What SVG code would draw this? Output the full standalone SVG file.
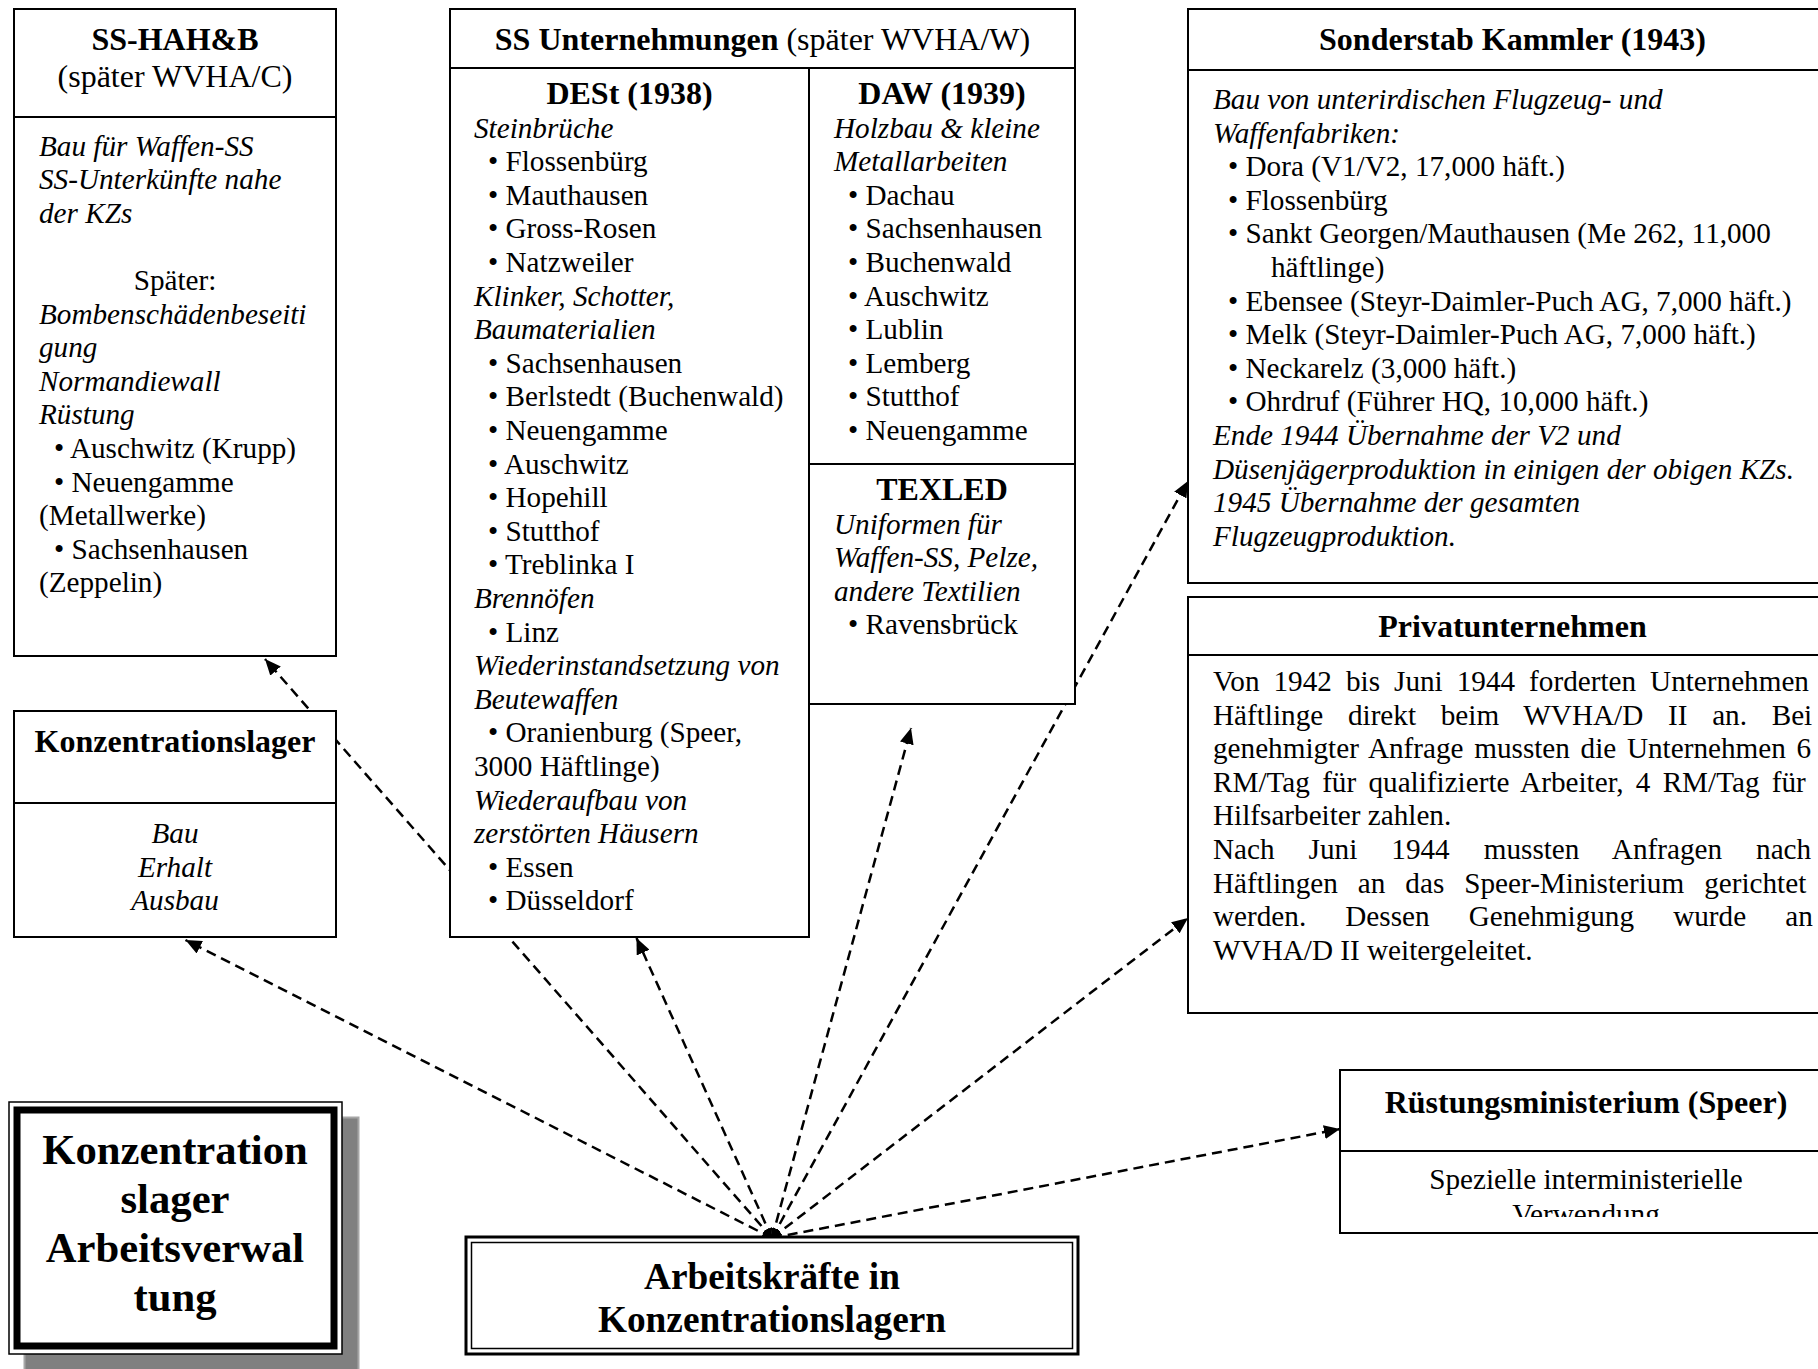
<svg xmlns="http://www.w3.org/2000/svg" width="1818" height="1369" viewBox="0 0 1818 1369">
<style>
text { font-family: "Liberation Serif", "Times New Roman", serif; fill: #000; }
.t { font-size: 32px; font-weight: bold; }
.b { font-size: 29.2px; }
.i { font-style: italic; }
.c { text-anchor: middle; }
.box { fill: #fff; stroke: #000; stroke-width: 2; }
.ln { stroke: #000; stroke-width: 2; }
#connectors line { stroke: #000; stroke-width: 2.5; stroke-dasharray: 10 6; fill: none; }
</style>
<defs>
<marker id="ah" markerUnits="userSpaceOnUse" markerWidth="18" markerHeight="14" refX="16" refY="7" orient="auto-start-reverse">
<path d="M0,0 L16,7 L0,14 z" fill="#000"/>
</marker>
<marker id="ahs" markerUnits="userSpaceOnUse" markerWidth="12" markerHeight="10" refX="10" refY="4" orient="auto-start-reverse">
<path d="M0,0 L10,4 L0,8 z" fill="#000"/>
</marker>
<clipPath id="rclip"><rect x="1340" y="1150" width="500" height="67"/></clipPath>
</defs>
<rect width="1818" height="1369" fill="#fff"/>

<g id="connectors">
<line x1="772" y1="1238" x2="265" y2="659" marker-start="url(#ahs)" marker-end="url(#ah)"/>
<line x1="772" y1="1238" x2="185.5" y2="940" marker-start="url(#ahs)" marker-end="url(#ah)"/>
<line x1="772" y1="1238" x2="636.5" y2="938" marker-start="url(#ahs)" marker-end="url(#ah)"/>
<line x1="772" y1="1238" x2="911" y2="728" marker-start="url(#ahs)" marker-end="url(#ah)"/>
<line x1="772" y1="1238" x2="1188" y2="481" marker-start="url(#ahs)" marker-end="url(#ah)"/>
<line x1="772" y1="1238" x2="1188" y2="918" marker-start="url(#ahs)" marker-end="url(#ah)"/>
<line x1="772" y1="1238" x2="1340" y2="1129" marker-end="url(#ah)"/>
</g>

<g id="ss-hahb">
<rect class="box" x="14" y="9" width="322" height="647"/>
<line class="ln" x1="14" y1="117" x2="336" y2="117"/>
<text class="t c" x="175" y="50">SS-HAH&amp;B</text>
<text class="b c" x="175" y="86.5" style="font-size:32px">(später WVHA/C)</text>
<text class="b i" x="39" y="155.5">Bau für Waffen-SS</text>
<text class="b i" x="39" y="189.1">SS-Unterkünfte nahe</text>
<text class="b i" x="39" y="222.7">der KZs</text>
<text class="b c" x="175" y="289.9">Später:</text>
<text class="b i" x="39" y="323.5">Bombenschädenbeseiti</text>
<text class="b i" x="39" y="357.1">gung</text>
<text class="b i" x="39" y="390.7">Normandiewall</text>
<text class="b i" x="39" y="424.3">Rüstung</text>
<text class="b" x="54" y="457.9">• Auschwitz (Krupp)</text>
<text class="b" x="54" y="491.5">• Neuengamme</text>
<text class="b" x="39" y="525.1">(Metallwerke)</text>
<text class="b" x="54" y="558.7">• Sachsenhausen</text>
<text class="b" x="39" y="592.3">(Zeppelin)</text>
</g>

<g id="konzentrationslager">
<rect class="box" x="14" y="711" width="322" height="226"/>
<line class="ln" x1="14" y1="803" x2="336" y2="803"/>
<text class="t c" x="175" y="752">Konzentrationslager</text>
<text class="b i c" x="175" y="843">Bau</text>
<text class="b i c" x="175" y="876.6">Erhalt</text>
<text class="b i c" x="175" y="910.2">Ausbau</text>
</g>

<g id="ss-unternehmungen">
<rect class="box" x="450" y="9" width="625" height="59"/>
<text class="c" x="762.5" y="50" style="font-size:32px"><tspan font-weight="bold">SS Unternehmungen</tspan> (später WVHA/W)</text>
</g>

<g id="dest">
<rect class="box" x="450" y="68" width="359" height="869"/>
<text class="t c" x="629.5" y="104">DESt (1938)</text>
<text class="b i" x="474" y="137.5">Steinbrüche</text>
<text class="b" x="488" y="171.1">• Flossenbürg</text>
<text class="b" x="488" y="204.7">• Mauthausen</text>
<text class="b" x="488" y="238.3">• Gross-Rosen</text>
<text class="b" x="488" y="271.9">• Natzweiler</text>
<text class="b i" x="474" y="305.5">Klinker, Schotter,</text>
<text class="b i" x="474" y="339.1">Baumaterialien</text>
<text class="b" x="488" y="372.7">• Sachsenhausen</text>
<text class="b" x="488" y="406.3">• Berlstedt (Buchenwald)</text>
<text class="b" x="488" y="439.9">• Neuengamme</text>
<text class="b" x="488" y="473.5">• Auschwitz</text>
<text class="b" x="488" y="507.1">• Hopehill</text>
<text class="b" x="488" y="540.7">• Stutthof</text>
<text class="b" x="488" y="574.3">• Treblinka I</text>
<text class="b i" x="474" y="607.9">Brennöfen</text>
<text class="b" x="488" y="641.5">• Linz</text>
<text class="b i" x="474" y="675.1">Wiederinstandsetzung von</text>
<text class="b i" x="474" y="708.7">Beutewaffen</text>
<text class="b" x="488" y="742.3">• Oranienburg (Speer,</text>
<text class="b" x="474" y="775.9">3000 Häftlinge)</text>
<text class="b i" x="474" y="809.5">Wiederaufbau von</text>
<text class="b i" x="474" y="843.1">zerstörten Häusern</text>
<text class="b" x="488" y="876.7">• Essen</text>
<text class="b" x="488" y="910.3">• Düsseldorf</text>
</g>

<g id="daw">
<rect class="box" x="809" y="68" width="266" height="396"/>
<text class="t c" x="942" y="104">DAW (1939)</text>
<text class="b i" x="834" y="137.5">Holzbau &amp; kleine</text>
<text class="b i" x="834" y="171.1">Metallarbeiten</text>
<text class="b" x="848" y="204.7">• Dachau</text>
<text class="b" x="848" y="238.3">• Sachsenhausen</text>
<text class="b" x="848" y="271.9">• Buchenwald</text>
<text class="b" x="848" y="305.5">• Auschwitz</text>
<text class="b" x="848" y="339.1">• Lublin</text>
<text class="b" x="848" y="372.7">• Lemberg</text>
<text class="b" x="848" y="406.3">• Stutthof</text>
<text class="b" x="848" y="439.9">• Neuengamme</text>
</g>

<g id="texled">
<rect class="box" x="809" y="464" width="266" height="240"/>
<text class="t c" x="942" y="500">TEXLED</text>
<text class="b i" x="834" y="533.5">Uniformen für</text>
<text class="b i" x="834" y="567.1">Waffen-SS, Pelze,</text>
<text class="b i" x="834" y="600.7">andere Textilien</text>
<text class="b" x="848" y="634.3">• Ravensbrück</text>
</g>

<g id="sonderstab-kammler">
<rect class="box" x="1188" y="9" width="649" height="574"/>
<line class="ln" x1="1188" y1="70" x2="1837" y2="70"/>
<text class="t c" x="1512.5" y="50">Sonderstab Kammler (1943)</text>
<text class="b i" x="1213" y="109">Bau von unterirdischen Flugzeug- und</text>
<text class="b i" x="1213" y="142.6">Waffenfabriken:</text>
<text class="b" x="1228" y="176.2">• Dora (V1/V2, 17,000 häft.)</text>
<text class="b" x="1228" y="209.8">• Flossenbürg</text>
<text class="b" x="1228" y="243.4">• Sankt Georgen/Mauthausen (Me 262, 11,000</text>
<text class="b" x="1271" y="277">häftlinge)</text>
<text class="b" x="1228" y="310.6">• Ebensee (Steyr-Daimler-Puch AG, 7,000 häft.)</text>
<text class="b" x="1228" y="344.2">• Melk (Steyr-Daimler-Puch AG, 7,000 häft.)</text>
<text class="b" x="1228" y="377.8">• Neckarelz (3,000 häft.)</text>
<text class="b" x="1228" y="411.4">• Ohrdruf (Führer HQ, 10,000 häft.)</text>
<text class="b i" x="1213" y="445">Ende 1944 Übernahme der V2 und</text>
<text class="b i" x="1213" y="478.6">Düsenjägerproduktion in einigen der obigen KZs.</text>
<text class="b i" x="1213" y="512.2">1945 Übernahme der gesamten</text>
<text class="b i" x="1213" y="545.8">Flugzeugproduktion.</text>
</g>

<g id="privatunternehmen">
<rect class="box" x="1188" y="597" width="649" height="416"/>
<line class="ln" x1="1188" y1="655" x2="1837" y2="655"/>
<text class="t c" x="1512.5" y="637">Privatunternehmen</text>
<text class="b" x="1213" y="691" word-spacing="6.73">Von 1942 bis Juni 1944 forderten Unternehmen</text>
<text class="b" x="1213" y="724.6" word-spacing="17.42">Häftlinge direkt beim WVHA/D II an. Bei</text>
<text class="b" x="1213" y="758.2" word-spacing="3.38">genehmigter Anfrage mussten die Unternehmen 6</text>
<text class="b" x="1213" y="791.8" word-spacing="4.98">RM/Tag für qualifizierte Arbeiter, 4 RM/Tag für</text>
<text class="b" x="1213" y="825.4">Hilfsarbeiter zahlen.</text>
<text class="b" x="1213" y="859" word-spacing="26.74">Nach Juni 1944 mussten Anfragen nach</text>
<text class="b" x="1213" y="892.6" word-spacing="12.7">Häftlingen an das Speer-Ministerium gerichtet</text>
<text class="b" x="1213" y="926.2" word-spacing="31.8">werden. Dessen Genehmigung wurde an</text>
<text class="b" x="1213" y="959.8">WVHA/D II weitergeleitet.</text>
</g>

<g id="ruestungsministerium">
<rect class="box" x="1340" y="1070" width="492" height="163"/>
<line class="ln" x1="1340" y1="1151" x2="1832" y2="1151"/>
<text class="t c" x="1586" y="1113">Rüstungsministerium (Speer)</text>
<g clip-path="url(#rclip)">
<text class="b c" x="1586" y="1189">Spezielle interministerielle</text>
<text class="b c" x="1586" y="1224">Verwendung</text>
</g>
</g>

<g id="titel">
<rect x="24.5" y="1117.5" width="334" height="270" fill="#808080" stroke="#a6a6a6" stroke-width="2"/>
<rect x="9" y="1102" width="333" height="252" fill="#fff" stroke="#000" stroke-width="1.5"/>
<rect x="17" y="1110" width="317" height="236" fill="#fff" stroke="#000" stroke-width="7"/>
<text class="c" x="175" y="1164" style="font-size:42.7px;font-weight:bold">Konzentration</text>
<text class="c" x="175" y="1213" style="font-size:42.7px;font-weight:bold">slager</text>
<text class="c" x="175" y="1262" style="font-size:42.7px;font-weight:bold">Arbeitsverwal</text>
<text class="c" x="175" y="1311" style="font-size:42.7px;font-weight:bold">tung</text>
</g>

<g id="arbeitskraefte">
<rect x="466" y="1237" width="612" height="117" fill="#fff" stroke="#000" stroke-width="3"/>
<rect x="471.5" y="1242.5" width="601" height="106" fill="none" stroke="#000" stroke-width="1.5"/>
<text class="c" x="772" y="1289" style="font-size:37.3px;font-weight:bold">Arbeitskräfte in</text>
<text class="c" x="772" y="1332" style="font-size:37.3px;font-weight:bold">Konzentrationslagern</text>
</g>
</svg>
